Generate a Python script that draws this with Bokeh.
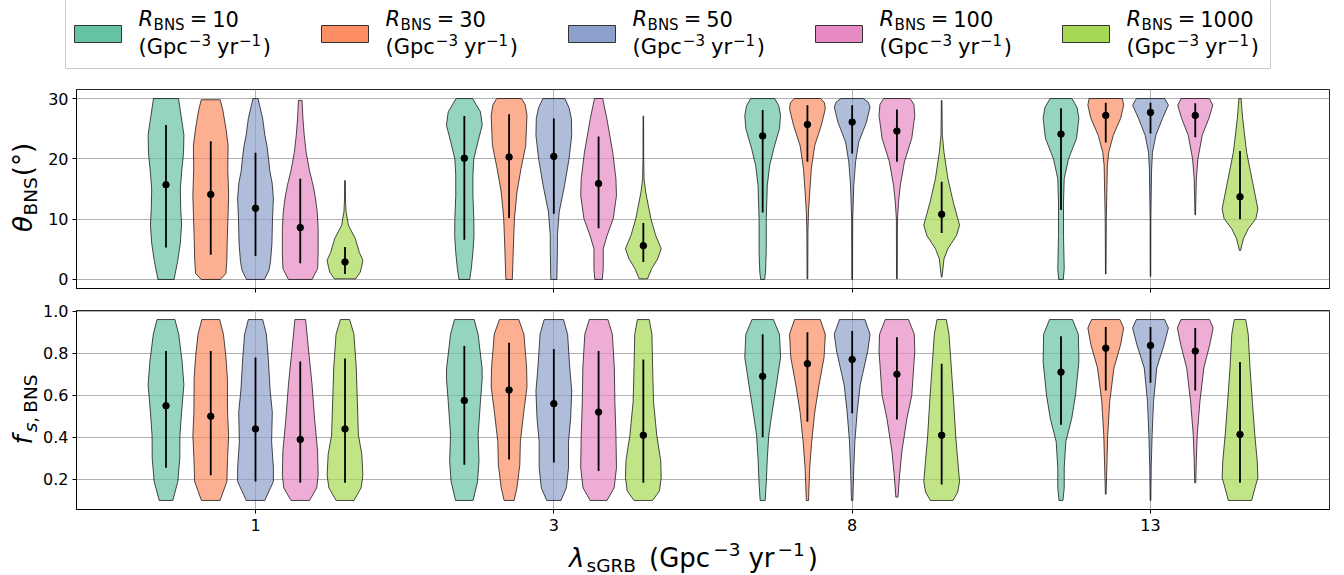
import math
from bokeh.plotting import figure
from bokeh.models import Range1d, FixedTicker, PrintfTickFormatter, ColumnDataSource, GridBox
from bokeh.embed import file_html
from bokeh.resources import INLINE
from bokeh.core.properties import value

# ---------------- data ----------------
lam_labels = ["1", "3", "8", "13"]          # lambda_sGRB groups
rate_labels = ["10", "30", "50", "100", "1000"]  # R_BNS series

# theta_BNS panel: median, lower/upper whisker per group (rows) and series (cols)
theta_median = [[15.7, 14.1, 11.8, 8.6, 2.9],
                [20.1, 20.3, 20.4, 15.9, 5.6],
                [23.8, 25.7, 26.1, 24.6, 10.8],
                [24.1, 27.2, 27.7, 27.2, 13.7]]
theta_low = [[5.3, 4.1, 3.9, 2.7, 0.9],
             [6.6, 10.2, 10.9, 8.5, 2.9],
             [11.1, 19.5, 20.9, 19.5, 7.7],
             [11.5, 22.7, 24.2, 23.6, 10.0]]
theta_high = [[25.6, 22.9, 21.0, 16.7, 5.4],
              [27.1, 27.4, 26.7, 23.7, 9.35],
              [28.1, 28.9, 28.9, 28.2, 16.2],
              [28.4, 29.3, 29.3, 29.2, 21.3]]

# violin outlines: [value, relative width] pairs
theta_shape_l1 = [
    [[0, 0.45], [3, 0.65], [6, 0.80], [9, 0.87], [12, 0.82], [15, 0.80], [18, 0.88], [21, 0.98], [24, 1.0], [27, 0.85], [30, 0.70]],
    [[0, 0.53], [1, 0.85], [3.4, 0.90], [6.2, 0.92], [10, 0.96], [14, 1.0], [18.4, 0.95], [22.2, 0.97], [25, 0.85], [28, 0.68], [29.8, 0.53]],
    [[0, 0.5], [1.5, 0.75], [3, 0.84], [6, 0.92], [10, 0.95], [13.5, 1.0], [16, 0.93], [18, 0.8], [20, 0.73], [22, 0.65], [24, 0.52], [26.7, 0.4], [29, 0.22], [30, 0.14]],
    [[0, 0.66], [1.8, 0.97], [4.5, 1.0], [8.4, 1.0], [11.2, 0.95], [13.5, 0.85], [15.6, 0.72], [18, 0.52], [21.1, 0.33], [24, 0.22], [26.7, 0.15], [29.7, 0.1]],
    [[0.1, 0.6], [1.2, 0.85], [2, 0.92], [3.2, 1.0], [4.5, 0.8], [6.75, 0.58], [9, 0.19], [11.2, 0.06], [13, 0.03], [16.4, 0.02]],
]
theta_shape_l3 = [
    [[0, 0.3], [1.8, 0.39], [4.5, 0.48], [7.3, 0.54], [10.1, 0.53], [13.9, 0.48], [17.3, 0.48], [20, 0.53], [22.8, 0.76], [25.6, 1.0], [27.8, 0.9], [30, 0.46]],
    [[0, 0.18], [1.8, 0.2], [6.2, 0.25], [10.1, 0.3], [14.5, 0.44], [18.4, 0.67], [22.2, 0.93], [27.2, 1.0], [29, 0.9], [30, 0.69]],
    [[0, 0.17], [5, 0.2], [7.3, 0.2], [11.2, 0.3], [15.6, 0.6], [20, 0.85], [23.9, 1.0], [26.7, 0.98], [28.5, 0.85], [30, 0.61]],
    [[0, 0.21], [1.8, 0.26], [5.1, 0.26], [7.3, 0.48], [10.1, 0.82], [13.9, 1.0], [16.7, 0.97], [21.1, 0.79], [26.7, 0.46], [30, 0.23]],
    [[0.1, 0.23], [1.8, 0.47], [3.4, 0.8], [5.1, 1.0], [7.3, 0.69], [10.1, 0.42], [14.5, 0.13], [16.7, 0.04], [20, 0.02], [27.1, 0.015]],
]
theta_shape_l8 = [
    [[0, 0.11], [1.2, 0.16], [4.5, 0.2], [10.1, 0.2], [15.6, 0.26], [18.9, 0.39], [21.7, 0.62], [25, 0.94], [27.2, 1.0], [28.8, 0.9], [30, 0.67]],
    [[0.1, 0.02], [8, 0.03], [11.2, 0.06], [14.5, 0.13], [18.4, 0.22], [22.2, 0.41], [25.6, 0.78], [28.3, 1.0], [29.3, 0.95], [30, 0.74]],
    [[0, 0.02], [10, 0.03], [15.6, 0.09], [19.5, 0.19], [22.8, 0.37], [26.1, 0.8], [28.6, 1.0], [29.4, 0.9], [30, 0.63]],
    [[0.1, 0.02], [10, 0.03], [12.8, 0.09], [15.6, 0.19], [19.5, 0.42], [23.4, 0.83], [27.2, 1.0], [29, 0.95], [30, 0.74]],
    [[0.4, 0.02], [3.4, 0.13], [5.1, 0.35], [7.3, 0.83], [9.0, 1.0], [10.1, 0.9], [12.8, 0.65], [16.7, 0.35], [21.1, 0.13], [23.9, 0.04], [29.7, 0.015]],
]
theta_shape_l13 = [
    [[0, 0.13], [1.8, 0.18], [7.3, 0.14], [12.8, 0.14], [16.7, 0.18], [20, 0.42], [23.4, 0.87], [26.7, 1.0], [28.5, 0.9], [30, 0.61]],
    [[0.9, 0.015], [10, 0.03], [18.9, 0.09], [21.1, 0.17], [23.9, 0.42], [26.7, 0.83], [28.9, 1.0], [30, 0.93]],
    [[0.5, 0.015], [10, 0.02], [18, 0.06], [21.1, 0.11], [23.9, 0.3], [26.7, 0.67], [28.9, 1.0], [30, 0.79]],
    [[10.7, 0.015], [16.7, 0.06], [20, 0.15], [23.9, 0.39], [26.7, 0.76], [28.9, 0.98], [30, 0.79]],
    [[4.8, 0.03], [6.75, 0.19], [8.4, 0.46], [10.1, 0.89], [11.7, 1.0], [15.6, 0.74], [21.1, 0.37], [26.7, 0.15], [30, 0.06]],
]

# f_s,BNS panel
f_median = [[0.55, 0.50, 0.44, 0.39, 0.44],
            [0.575, 0.625, 0.56, 0.52, 0.41],
            [0.69, 0.75, 0.77, 0.70, 0.41],
            [0.71, 0.824, 0.837, 0.81, 0.414]]
f_low = [[0.255, 0.22, 0.19, 0.184, 0.184],
         [0.27, 0.295, 0.28, 0.24, 0.184],
         [0.40, 0.474, 0.514, 0.485, 0.176],
         [0.46, 0.623, 0.66, 0.623, 0.184]]
f_high = [[0.81, 0.81, 0.78, 0.76, 0.775],
          [0.834, 0.85, 0.82, 0.81, 0.77],
          [0.89, 0.90, 0.905, 0.876, 0.75],
          [0.88, 0.924, 0.924, 0.92, 0.758]]

f_shape_l1 = [
    [[0.1, 0.38], [0.19, 0.66], [0.30, 0.77], [0.41, 0.78], [0.52, 0.87], [0.65, 1.0], [0.76, 0.9], [0.89, 0.71], [0.96, 0.5]],
    [[0.1, 0.52], [0.19, 0.9], [0.30, 0.94], [0.41, 1.0], [0.52, 0.94], [0.68, 0.93], [0.78, 0.85], [0.89, 0.71], [0.96, 0.5]],
    [[0.1, 0.52], [0.19, 1.0], [0.255, 1.0], [0.38, 0.9], [0.52, 0.94], [0.62, 0.82], [0.78, 0.71], [0.89, 0.61], [0.96, 0.4]],
    [[0.1, 0.52], [0.16, 0.92], [0.22, 1.0], [0.335, 0.97], [0.49, 0.8], [0.65, 0.66], [0.81, 0.47], [0.96, 0.3]],
    [[0.1, 0.5], [0.16, 0.9], [0.22, 1.0], [0.32, 0.94], [0.41, 0.75], [0.57, 0.69], [0.73, 0.63], [0.89, 0.5], [0.96, 0.26]],
]
f_shape_l3 = [
    [[0.1, 0.49], [0.19, 0.74], [0.29, 0.82], [0.41, 0.77], [0.57, 0.9], [0.68, 1.0], [0.73, 0.99], [0.89, 0.77], [0.96, 0.55]],
    [[0.1, 0.28], [0.16, 0.44], [0.27, 0.6], [0.38, 0.63], [0.52, 0.82], [0.64, 1.0], [0.73, 0.98], [0.89, 0.83], [0.96, 0.54]],
    [[0.1, 0.4], [0.16, 0.7], [0.255, 0.82], [0.38, 0.82], [0.49, 0.94], [0.62, 1.0], [0.73, 0.89], [0.89, 0.77], [0.96, 0.54]],
    [[0.1, 0.47], [0.16, 0.87], [0.255, 1.0], [0.41, 0.97], [0.57, 0.91], [0.73, 0.88], [0.89, 0.77], [0.96, 0.52]],
    [[0.1, 0.52], [0.145, 0.9], [0.21, 1.0], [0.29, 0.97], [0.41, 0.75], [0.57, 0.57], [0.73, 0.52], [0.89, 0.48], [0.96, 0.33]],
]
f_shape_l8 = [
    [[0.1, 0.14], [0.18, 0.2], [0.30, 0.26], [0.41, 0.34], [0.52, 0.53], [0.65, 0.77], [0.78, 1.0], [0.89, 0.94], [0.96, 0.6]],
    [[0.1, 0.06], [0.255, 0.13], [0.38, 0.24], [0.52, 0.41], [0.65, 0.65], [0.78, 0.93], [0.89, 1.0], [0.96, 0.72]],
    [[0.1, 0.04], [0.255, 0.09], [0.38, 0.15], [0.52, 0.28], [0.65, 0.45], [0.81, 0.87], [0.89, 1.0], [0.96, 0.71]],
    [[0.116, 0.06], [0.22, 0.15], [0.335, 0.28], [0.49, 0.56], [0.60, 0.83], [0.81, 1.0], [0.89, 0.97], [0.96, 0.65]],
    [[0.1, 0.63], [0.14, 0.9], [0.19, 1.0], [0.29, 0.9], [0.41, 0.78], [0.57, 0.67], [0.73, 0.54], [0.89, 0.41], [0.96, 0.26]],
]
f_shape_l13 = [
    [[0.1, 0.11], [0.16, 0.18], [0.255, 0.18], [0.38, 0.27], [0.49, 0.6], [0.60, 0.81], [0.76, 1.0], [0.89, 0.97], [0.96, 0.64]],
    [[0.13, 0.02], [0.255, 0.06], [0.41, 0.11], [0.57, 0.22], [0.73, 0.46], [0.84, 0.83], [0.92, 1.0], [0.96, 0.79]],
    [[0.1, 0.02], [0.255, 0.04], [0.41, 0.09], [0.57, 0.17], [0.73, 0.35], [0.84, 0.76], [0.92, 1.0], [0.96, 0.79]],
    [[0.184, 0.03], [0.29, 0.06], [0.41, 0.11], [0.57, 0.26], [0.73, 0.48], [0.84, 0.81], [0.92, 1.0], [0.96, 0.8]],
    [[0.1, 0.65], [0.21, 1.0], [0.29, 0.96], [0.41, 0.83], [0.57, 0.69], [0.73, 0.56], [0.89, 0.46], [0.96, 0.32]],
]

theta_ticks = [0, 10, 20, 30]
f_ticks = [0.2, 0.4, 0.6, 0.8, 1.0]

# ---------------- styling / layout ----------------
COLORS = ["#66c2a5", "#fc8d62", "#8da0cb", "#e78ac3", "#a6d854"]
OFFSETS = [-0.3, -0.15, 0.0, 0.15, 0.3]
HALF_W = 0.06
FONT = "DejaVu Sans"
W = 1344
STRIP_W = 40
PANEL_W = W - STRIP_W
BL, BR = 34, 15          # panel borders -> frame x 74..1329
XR = (-0.6, 3.6)
LEG_H = 85
TOP_H, TOP_BT, TOP_BB = 214, 4, 11      # frame y 89..288
BOT_H, BOT_BT, BOT_BB = 239, 11, 29     # frame y 310..509
XL_H = 37
TOP_YR = (-1.5, 31.5)
BOT_YR = (0.057, 1.003)
BASE_FIX = 0.32          # baseline correction, fraction of font size

ADV = {' ': 0.318, '(': 0.390, ')': 0.390, '=': 0.838, 'B': 0.686, 'G': 0.775, 'N': 0.748,
       'R': 0.695, 'S': 0.635, 'c': 0.550, 'p': 0.635, 'y': 0.592, 'r': 0.411, 's': 0.521,
       'f': 0.352, 'θ': 0.602, 'λ': 0.592, '°': 0.500, ',': 0.318, '−': 0.838}
for d in "0123456789":
    ADV[d] = 0.636


def layout_pieces(pieces):
    out, pos = [], 0.0
    for text, size, italic, shift, gap in pieces:
        pos += gap
        out.append((pos, text, size, italic, shift))
        pos += sum(ADV.get(c, 0.6) for c in text) * size
    return out, pos


def blank_fig(width, height, y0, y1, bl=0, br=0, bt=0, bb=0):
    """A figure whose data coordinates are pixels (y negated) used only for text."""
    fw = width - bl - br
    fig = figure(width=width, height=height,
                 x_range=Range1d(0, fw), y_range=Range1d(-y1, -y0),
                 output_backend="svg", toolbar_location=None,
                 min_border_left=bl, min_border_right=br, min_border_top=bt, min_border_bottom=bb,
                 x_axis_location=None, y_axis_location=None)
    fig.grid.visible = False
    fig.outline_line_color = None
    fig.background_fill_color = "white"
    fig.border_fill_color = "white"
    return fig


def text_pieces(fig, pieces, anchor, baseline, vertical, center=True):
    items, total = layout_pieces(pieces)
    start = anchor - total / 2 if center else anchor
    xs, ys, ts, ss, st = [], [], [], [], []
    for pos, text, size, italic, shift in items:
        off = shift - BASE_FIX * size
        if vertical:
            x, y = baseline + off, (start + total) - pos
        else:
            x, y = start + pos, baseline + off
        xs.append(x); ys.append(-y); ts.append(text)
        ss.append(f"{size}px"); st.append("italic" if italic else "normal")
    fig.text(x="x", y="y", text="t", text_font_size="s", text_font_style="st",
             source=ColumnDataSource(dict(x=xs, y=ys, t=ts, s=ss, st=st)),
             angle=(math.pi / 2 if vertical else 0.0),
             text_font=value(FONT), text_color="black",
             text_baseline="alphabetic", text_align="left")


def make_panel(height, btop, bbot, yr, yticks):
    p = figure(width=PANEL_W, height=height, x_range=Range1d(*XR), y_range=Range1d(*yr),
               output_backend="svg", toolbar_location=None,
               min_border_left=BL, min_border_right=BR,
               min_border_top=btop, min_border_bottom=bbot)
    p.background_fill_color = "white"
    p.border_fill_color = "white"
    p.outline_line_color = "black"
    p.outline_line_width = 1
    p.outline_line_alpha = 0.85
    p.xaxis.ticker = FixedTicker(ticks=[0, 1, 2, 3])
    p.yaxis.ticker = FixedTicker(ticks=yticks)
    for ax in (p.xaxis[0], p.yaxis[0]):
        ax.axis_line_color = "black"
        ax.axis_line_alpha = 0.85
        ax.major_tick_line_color = "black"
        ax.major_tick_in = 0
        ax.major_tick_out = 4
        ax.minor_tick_line_color = None
        ax.major_label_text_font = FONT
        ax.major_label_text_font_size = "16px"
        ax.major_label_text_color = "black"
    p.yaxis.major_label_standoff = 4
    p.xaxis.major_label_standoff = 5
    p.xgrid.grid_line_color = "#b0b0b0"
    p.ygrid.grid_line_color = "#b0b0b0"
    p.xgrid.grid_line_width = 1
    p.ygrid.grid_line_width = 1
    return p


def draw_violins(p, shapes, med, lo, hi):
    xs, ys, fc = [], [], []
    sx, sy0, sy1, my = [], [], [], []
    for g in range(len(lam_labels)):
        for k in range(len(rate_labels)):
            cx = g + OFFSETS[k]
            prof = shapes[g][k]
            yy = [v[0] for v in prof]
            ww = [v[1] for v in prof]
            left = [cx - HALF_W * w for w in ww]
            right = [cx + HALF_W * w for w in ww]
            xs.append(left + right[::-1])
            ys.append(yy + yy[::-1])
            fc.append(COLORS[k])
            sx.append(cx); sy0.append(lo[g][k]); sy1.append(hi[g][k]); my.append(med[g][k])
    p.patches(xs="xs", ys="ys", fill_color="fc", source=ColumnDataSource(dict(xs=xs, ys=ys, fc=fc)),
              fill_alpha=0.7, line_color="black", line_alpha=0.7, line_width=1)
    p.segment(x0=sx, y0=sy0, x1=sx, y1=sy1, line_color="black", line_width=1.8)
    p.scatter(x=sx, y=my, size=6.5, fill_color="black", line_color="black")


# ---------------- legend ----------------
leg = blank_fig(W, LEG_H, 0, LEG_H, br=BR)
leg.quad(left=[65], right=[1270], top=[5], bottom=[-68], fill_color="white",
         line_color="#cccccc", line_width=1)
for k, rate in enumerate(rate_labels):
    x0 = 74 + 247 * k
    leg.quad(left=[x0], right=[x0 + 47], top=[-25], bottom=[-42], fill_color=COLORS[k],
             line_color="#333333", line_width=1)
    text_pieces(leg, [("R", 21, True, 0, 0), ("BNS", 15, False, 4, 0.5), ("=", 21, False, 0, 5),
                      (rate, 21, False, 0, 5)], x0 + 64, 25, False, center=False)
    text_pieces(leg, [("(Gpc", 21, False, 0, 0), ("−3", 15, False, -9, 1), ("yr", 21, False, 0, 6),
                      ("−1", 15, False, -9, 1), (")", 21, False, 0, 1.5)], x0 + 64, 53, False, center=False)

# ---------------- top panel (theta) ----------------
top = make_panel(TOP_H, TOP_BT, TOP_BB, TOP_YR, theta_ticks)
top.xaxis.major_label_text_color = None
top.xaxis.major_label_text_font_size = "1px"
top.xaxis.major_label_standoff = 0
draw_violins(top, [theta_shape_l1, theta_shape_l3, theta_shape_l8, theta_shape_l13],
             theta_median, theta_low, theta_high)

strip_top = blank_fig(STRIP_W, TOP_H, 89, 288, bt=TOP_BT, bb=TOP_BB)
text_pieces(strip_top, [("θ", 26, True, 0, 0), ("BNS", 18.5, False, 5, 1), ("(°)", 26, False, 0, 1)],
            187, 31, True)

# ---------------- bottom panel (f) ----------------
bot = make_panel(BOT_H, BOT_BT, BOT_BB, BOT_YR, f_ticks)
bot.yaxis.formatter = PrintfTickFormatter(format="%.1f")
bot.xaxis.major_label_overrides = {i: lab for i, lab in enumerate(lam_labels)}
draw_violins(bot, [f_shape_l1, f_shape_l3, f_shape_l8, f_shape_l13], f_median, f_low, f_high)

strip_bot = blank_fig(STRIP_W, BOT_H, 310, 509, bt=BOT_BT, bb=BOT_BB)
text_pieces(strip_bot, [("f", 26, True, 0, 0), ("s", 18.5, True, 5, 3), (",", 18.5, False, 5, 0),
                        ("BNS", 18.5, False, 5, 4)], 409, 31, True)

# ---------------- x label ----------------
xlab = blank_fig(W, XL_H, 538, 575, br=BR)
text_pieces(xlab, [("λ", 26, True, 0, 0), ("sGRB", 18.5, False, 5, 2), ("(Gpc", 26, False, 0, 13),
                   ("−3", 18.5, False, -11, 3), ("yr", 26, False, 0, 8), ("−1", 18.5, False, -11, 3),
                   (")", 26, False, 0, 3)], 693, 566, False)

grid = GridBox(children=[(leg, 0, 0, 1, 2),
                         (strip_top, 1, 0), (top, 1, 1),
                         (strip_bot, 2, 0), (bot, 2, 1),
                         (xlab, 3, 0, 1, 2)], spacing=0)
open("out.html", "w").write(file_html(grid, INLINE))
